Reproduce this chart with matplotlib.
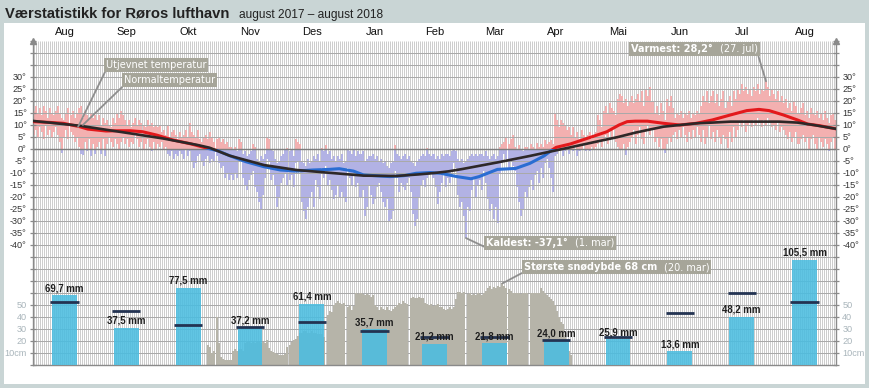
import matplotlib
matplotlib.use("Agg")
import matplotlib.pyplot as plt
import numpy as np
from matplotlib.patches import Rectangle
from matplotlib.offsetbox import TextArea, HPacker, AnnotationBbox
from matplotlib.transforms import blended_transform_factory, IdentityTransform

plt.rcParams['font.family'] = ['Liberation Sans', 'DejaVu Sans']

# ---------------- data ----------------
months = ["Aug", "Sep", "Okt", "Nov", "Des", "Jan", "Feb", "Mar", "Apr", "Mai", "Jun", "Jul", "Aug"]
month_days = [31, 30, 31, 30, 31, 31, 28, 31, 30, 31, 30, 31, 31]
precip_mm = [69.7, 37.5, 77.5, 37.2, 61.4, 35.7, 21.2, 21.8, 24.0, 25.9, 13.6, 48.2, 105.5]
precip_normal_mm = [63, 54, 40, 38, 43, 34, 28, 28, 25, 28, 52, 72, 63]

# daily max / min temperature (deg C), 1 Aug 2017 - 31 Aug 2018
tmax = [
    16, 18, 15, 17, 14, 18, 16, 13, 17, 15, 14, 16, 18, 15, 13, 12, 15, 17, 14, 16, 13, 15, 17, 18, 13, 16, 14, 12, 15, 13, 14,
    12, 14, 10, 13, 11, 12, 10, 9, 13, 11, 15, 13, 16, 14, 12, 10, 12, 9, 11, 13, 10, 12, 11, 10, 9, 12, 10, 11, 9, 10,
    9, 10, 7, 8, 6, 10, 5, 7, 8, 6, 4, 7, 5, 6, 8, 5, 11, 7, 6, 5, 8, 4, 3, 5, 6, 4, 7, 5, 3, 4, 5,
    3, 4, 2, 3, 1, 1, 0, 1, -1, 4, 3, -2, -1, -3, -2, -1, 2, 1, -4, -5, -3, -4, -2, 5, 4, 0, -1, -4, -6, -5,
    -3, -2, 0, 0.5, -1, 0, -3, 4, 3, 2, -5, -6, -7, -4, -6, -5, -3, -4, -2, -5, 0.5, -1, 1.7, -2, -1, -4, -3, -5, -3, -4, -2,
    -6, -5, 0, -1, -2, 0, -3, -1, -2, -1, -5, -4, -3, -3, -2, -4, -3, -5, -4, -6, -5, -7, -8, -6, -5, 1.7, -2, -3, -4, -3, -2,
    -4, -3, -5, -6, -7, -5, -4, -3, -2, -3, 0.3, -2, -3, -2, -4, -3, -4, -2, -3, -2, -2, -3, -1, -0.4, -1, -4, -5, -4,
    -6, -5, -4, -3, -2, -3, -2, -3, -2, -2, -3, -1, -3, -4, -3, -2, -4, -3, 1, 2, 3, 5, 2, 4, 5.8, 1, 0, 1.7, 0, -1, 1,
    1, 0, 2, 1, 0, 2.4, 1, 2, 1, 3.8, 2, 3, 3.8, 2, 15, 12, 9, 12, 11, 10, 8, 9, 6, 9, 5, 7, 4, 8, 6, 5,
    6, 7, 4, 5, 7, 14, 12, 9, 16, 18, 15, 19, 17, 16, 14, 21, 23, 22, 19, 21, 18, 20, 22, 19, 21, 23, 20, 24, 18, 25, 22,
    26, 20, 15, 18, 14, 19, 16, 12, 21, 18, 22, 17, 13, 15, 14, 16, 13, 15, 14, 16, 13, 15, 14, 16, 15, 18, 22, 20, 24, 19,
    22, 24, 19, 23, 18, 21, 24, 17, 20, 22, 18, 24, 21, 25, 23, 27, 24, 26, 23, 25, 22, 26, 24, 27, 23, 25, 24, 28.2, 26, 22, 25,
    23, 21, 24, 20, 22, 19, 21, 17, 19, 16, 20, 18, 15, 17, 19, 14, 16, 13, 17, 15, 14, 16, 13, 15, 12, 16, 13, 11, 14, 15, 12,
]
tmin = [
    6, 8, 5, 9, 7, 4, 10, 6, 8, 5, 7, 9, 6, 3, -1.5, 5, 8, 4, 7, 6, 3, 5, 1, -2, -2.5, 3, -1, 4, -3, 2, -2,
    1, 3, -2, 4, -3, 2, 5, 3, 1, 4, 2, 0, 3, 5, 2, 4, 1, 3, 2, 6, 4, 1, 3, 0, 2, 4, 1, -1, 3, 0,
    2, 1, 3, 0, 1, -2, -3, -1, -4, -2, -3, -1, -2, -4, 0, -3, -1, -5, -8, -6, -3, -2, -5, -7, -4, -3, -6, -4, -5, -3, -6,
    -8, -7, -12, -10, -13, -11, -13, -10, -12, -5, -4, -12, -15, -17, -13, -11, -9, -16, -18, -22, -25, -19, -12, -4, -5, -13, -11, -15, -24, -20,
    -14, -12, -10, -15, -13, -11, -16, -6, -5, -9, -22, -26, -29, -24, -20, -18, -24, -13, -16, -21, -8, -12, -7, -15, -13, -17, -21, -19, -15, -20, -18,
    -20, -22, -8, -12, -15, -10, -16, -14, -20, -17, -28, -24, -15, -19, -23, -21, -16, -14, -18, -22, -24, -21, -30, -29, -26, -9, -12, -18, -14, -16, -17,
    -14, -12, -18, -27, -32, -29, -20, -15, -13, -16, -12, -11, -10, -12, -16, -23, -18, -14, -10, -16, -12, -14, -9, -6, -8, -19, -24, -22,
    -28, -37.1, -24, -26, -17, -12, -20, -15, -13, -17, -9, -14, -21, -26, -23, -29, -24, -31, -10, -6, -2, -4, -8, -5, -7, -9, -16, -22, -28, -25, -18,
    -20, -16, -13, -17, -11, -9, -14, -8, -12, -6, -4, -8, -12, -18, -3, -2, -1, 0, -3, -1, 1, -2, 0, -1, 1, -3, -1, 0, 2, -1,
    0, -1, 1, 0, 1, 2, 3, 1, 4, 6, 2, 8, 5, 9, 3, 1, 0, -0.4, 2, -2.5, 1, 3, 5, 8, 2, 6, 9, 4, 2, 7, 10,
    6, 8, 3, 5, 1, 4, 0, -1.7, 2, 5, 3, 6, 7, 4, 8, 5, 9, 6, 3, 7, 4, 8, 5, 9, 6, 3, 8, 2, 5, 10,
    4, 7, 3, 8, 5, 2, 6, 4, 0.3, 7, 3, 9, 5, 8, 11, 9, 12, 7, 10, 11, 9, 12, 10, 13, 11, 9, 12, 10, 13, 11, 9,
    10, 8, 11, 7, 9, 8, 6, 4, 7, 3, 5, 7, 2, 4, 6, 3, 5, 0, 4, 6, 2, 0, 5, 3, 1, 4, 2, -0.7, 3, 5, 0,
]

# snow depth (cm), daily from 26 Oct 2017 (day index 86)
snow_start_day = 86
snow_cm = [
    17, 15, 10, 12, 40, 18, 7, 5, 4, 4,
    4, 4, 12, 13, 12, 13, 13, 12, 18, 20,
    19, 18, 19, 18, 19, 19, 18, 19, 18, 21,
    14, 12, 11, 10, 9, 8, 8, 8, 9, 15,
    17, 19, 21, 22, 24, 27, 27, 28, 28, 27,
    27, 28, 27, 27, 26, 26, 26, 23, 0, 42,
    45, 44, 50, 52, 53, 52, 51, 52, 0, 48,
    50, 46, 49, 60, 59, 60, 59, 58, 59, 58,
    57, 58, 50, 48, 46, 48, 47, 46, 48, 46,
    45, 47, 48, 50, 52, 51, 53, 52, 51, 0,
    56, 57, 56, 56, 57, 56, 56, 52, 51, 50,
    51, 49, 50, 51, 48, 48, 47, 46, 47, 48,
    47, 48, 55, 61, 61, 60, 61, 0, 59, 60,
    58, 59, 58, 60, 59, 58, 60, 62, 64, 66,
    63, 65, 64, 66, 65, 68, 66, 64, 63, 62,
    60, 60, 60, 60, 59, 60, 60, 60, 0, 60,
    60, 60, 60, 60, 64, 62, 60, 58, 57, 55,
    53, 50, 45, 40, 36, 34, 25, 18, 12, 8,
]

# smoothed temperature ("Utjevnet temperatur")
smooth_day = [0, 8, 15, 23, 27, 36, 42, 48, 54, 61, 69, 78, 86, 91, 97, 105, 114, 122, 130, 138,
              146, 151, 158, 163, 171, 176, 183, 189, 196, 201, 209, 216, 220, 229, 238, 245, 252, 256, 258, 265,
              275, 283, 289, 293, 297, 303, 311, 319, 327, 335, 344, 352, 358, 363, 370, 377, 382, 388, 396]
smooth_temp = [11.4, 11.1, 10.7, 9.3, 8.3, 7.5, 7.6, 7.6, 7.2, 5.8, 3.75, 2.1, 0.3, -0.7, -2.8, -5.3, -7.4, -8.75, -9.2, -8.75,
               -8.5, -8.2, -9.2, -10.8, -11.25, -11.5, -11.1, -10.1, -9.8, -10.1, -11.5, -12.4, -11.5, -8.5, -8.1, -6, -2.9, -0.4, 0.7, 2.1,
               4.9, 7.2, 10, 11.4, 11.6, 11.6, 10.7, 10, 10.7, 12.1, 14.2, 16, 16.5, 16, 14.2, 12.1, 10.4, 9.7, 8.4]

# normal temperature ("Normaltemperatur")
normal_day = [0, 23, 48, 64, 81, 87, 97, 114, 130, 146, 163, 179, 190, 198, 205, 212, 229, 245, 255, 265,
              278, 288, 297, 303, 311, 319, 327, 335, 344, 352, 360, 368, 377, 385, 396]
normal_temp = [11.7, 9.7, 6.5, 4.4, 1.7, 0.55, -2.8, -6.7, -8.75, -9.9, -11.1, -11.25, -10.6, -10.0, -9.3, -8.3, -5.6, -2.9, -1.1, 0.7,
               3.1, 4.9, 6.8, 7.9, 9.3, 10, 10.7, 11, 11.4, 11.4, 11.4, 11.4, 11, 10, 8.4]

# ---------------- scales ----------------
Y_BOT, Y_TOP = -90, 45          # temperature units of the axes
def cm_to_y(cm):                 # 10 cm = 5 deg grid step
    return Y_BOT + np.asarray(cm, float) * 0.5
def mm_to_y(mm):                 # 12 mm = 5 deg grid step
    return Y_BOT + np.asarray(mm, float) * 5.0 / 12.0

tmax_a = np.array(tmax, float)
tmin_a = np.array(tmin, float)
n_days = len(tmax_a)
days = np.arange(n_days) + 0.5
month_start = np.concatenate([[0], np.cumsum(month_days)[:-1]])
month_mid = month_start + np.array(month_days) / 2.0

# ---------------- figure ----------------
W, H = 870, 388
fig = plt.figure(figsize=(W / 100, H / 100), dpi=100)
fig.patch.set_facecolor('#c9d5d5')
fig.add_artist(Rectangle((4 / W, 1 - 384 / H), 861 / W, 361 / H, transform=fig.transFigure,
                         facecolor='white', edgecolor='none', zorder=0))

fig.text(5 / W, 1 - 18 / H, "Værstatistikk for Røros lufthavn", fontsize=10.6, fontweight='bold',
         color='#222222', va='baseline', ha='left')
fig.text(239 / W, 1 - 18 / H, "august 2017 – august 2018", fontsize=8.6,
         color='#222222', va='baseline', ha='left')

ax = fig.add_axes([33 / W, 1 - 365 / H, 803 / W, 324 / H])
ax.set_facecolor('white')
ax.set_xlim(0, n_days)
ax.set_ylim(Y_BOT, Y_TOP)

# grid: fine daily hatching drawn on a 2-pixel pitch, horizontal lines every 5 units
bx0, bx1 = ax.bbox.x0, ax.bbox.x1
grid_px = np.arange(np.floor(bx0) + 2, bx1 - 0.5, 2)
ax.vlines(grid_px, 0, 1, transform=blended_transform_factory(IdentityTransform(), ax.transAxes),
          color='#cdcdcd', lw=0.72, zorder=0.5, snap=True)
ax.hlines(np.arange(Y_BOT + 5, Y_TOP, 5), 0, n_days, color='#a9a9a9', lw=0.72, zorder=1.5, snap=True)
ax.axhline(0, color='#7d7d7d', lw=1.0, zorder=1.6)

# daily temperature bars
pos_top = tmax_a
pos_bot = np.maximum(tmin_a, 0)
pos_h = np.where(tmax_a > 0, pos_top - pos_bot, 0)
neg_top = np.minimum(tmax_a, 0)
neg_h = np.where(tmin_a < 0, neg_top - tmin_a, 0)
ax.bar(days, pos_h, bottom=pos_bot, width=1.0, color='#f3b0b0', zorder=1, linewidth=0)
ax.bar(days, neg_h, bottom=tmin_a, width=1.0, color='#b2b2e4', zorder=1, linewidth=0)

# smoothed temperature (red above 0, blue below)
lr, = ax.plot(smooth_day, smooth_temp, color='#e3191c', lw=2.2, zorder=3, solid_capstyle='round')
lb, = ax.plot(smooth_day, smooth_temp, color='#2a6dd2', lw=2.2, zorder=3, solid_capstyle='round')
lr.set_clip_path(Rectangle((0, 0), n_days, 60, transform=ax.transData))
lb.set_clip_path(Rectangle((0, -100), n_days, 100, transform=ax.transData))
# normal temperature
ax.plot(normal_day, normal_temp, color='#2e2828', lw=1.9, zorder=4, solid_capstyle='round')

# snow depth
snow_days = snow_start_day + np.arange(len(snow_cm)) + 0.5
ax.bar(snow_days, cm_to_y(snow_cm) - Y_BOT, bottom=Y_BOT, width=1.0, color='#b6b4a9', zorder=2, linewidth=0)

# precipitation bars and normal lines
ax.bar(month_mid, mm_to_y(precip_mm) - Y_BOT, bottom=Y_BOT, width=12.3, color='#4bbde0',
       alpha=0.88, zorder=5)
ax.hlines(mm_to_y(precip_normal_mm), month_mid - 7, month_mid + 7, color='#233352', lw=2.0, zorder=6)
for xm, v in zip(month_mid, precip_mm):
    ax.annotate(f"{v:.1f}".replace('.', ',') + " mm", (xm, mm_to_y(v)), xytext=(0, 1.5),
                textcoords='offset points', ha='center', va='bottom', fontsize=6.9,
                fontweight='bold', color='#1e1e1e', zorder=7)

# axes styling
ax.spines['top'].set_visible(False)
for s in ['left', 'right', 'bottom']:
    ax.spines[s].set_color('#8a8a8a')
    ax.spines[s].set_linewidth(1.0)

ax.set_xticks(month_mid)
ax.set_xticklabels(months)
ax.tick_params(axis='x', bottom=False, top=False, labelbottom=False, labeltop=True,
               length=0, pad=3, labelsize=8, labelcolor='#111111')

yt = np.arange(Y_BOT, Y_TOP + 1, 5)
snow_ticks = {10: "10cm", 20: "20", 30: "30", 40: "40", 50: "50"}
ylabels, ycolors = [], []
for t in yt:
    if -40 <= t <= 30:
        ylabels.append(f"{int(t)}°")
        ycolors.append('#333333')
    else:
        cm = int(round((t - Y_BOT) * 2))
        ylabels.append(snow_ticks.get(cm, ""))
        ycolors.append('#a9b5bb')
ax.set_yticks(yt)
ax.set_yticklabels(ylabels)
ax.tick_params(axis='y', left=True, right=True, labelleft=True, labelright=True,
               direction='inout', length=5, width=0.9, color='#8a8a8a', labelsize=6.6, pad=2)
for tk, c in zip(ax.yaxis.get_major_ticks(), ycolors):
    tk.label1.set_color(c)
    tk.label2.set_color(c)

ax.plot([0, n_days], [Y_TOP, Y_TOP], ls='none', marker='^', ms=4, color='#8a8a8a', clip_on=False, zorder=8)


# annotation boxes
def label_box(parts, xy, xybox, relpos):
    kids = [TextArea(t, textprops=dict(color='white', fontsize=7, family='DejaVu Sans', fontweight=w))
            for t, w in parts]
    pack = HPacker(children=kids, align='baseline', pad=0, sep=5)
    ab = AnnotationBbox(pack, xy, xybox=xybox, xycoords='data', boxcoords='data',
                        box_alignment=(0, 0.5), frameon=True, fontsize=7,
                        bboxprops=dict(boxstyle='square,pad=0.2', facecolor='#a6a599', edgecolor='none'),
                        arrowprops=dict(arrowstyle='-', color='#8e8e8e', lw=1.3, relpos=relpos,
                                        shrinkA=0, shrinkB=0),
                        annotation_clip=False, zorder=10)
    ax.add_artist(ab)


label_box([("Utjevnet temperatur", 'normal')], (22.2, 9.2), (36.0, 35.0), (0, 0))
label_box([("Normaltemperatur", 'normal')], (24.6, 10.0), (45.0, 28.75), (0, 0))
label_box([("Varmest: 28,2°", 'bold'), ("(27. jul)", 'normal')], (361.5, 28.2), (295.0, 41.5), (1, 0))
label_box([("Kaldest: -37,1°", 'bold'), ("(1. mar)", 'normal')], (213.5, -37.1), (223.5, -39.0), (0, 0))
label_box([("Største snødybde 68 cm", 'bold'), ("(20. mar)", 'normal')], (231.5, cm_to_y(68)), (242.0, -49.2), (0, 0))

fig.savefig("out.png", dpi=100, facecolor=fig.get_facecolor())
